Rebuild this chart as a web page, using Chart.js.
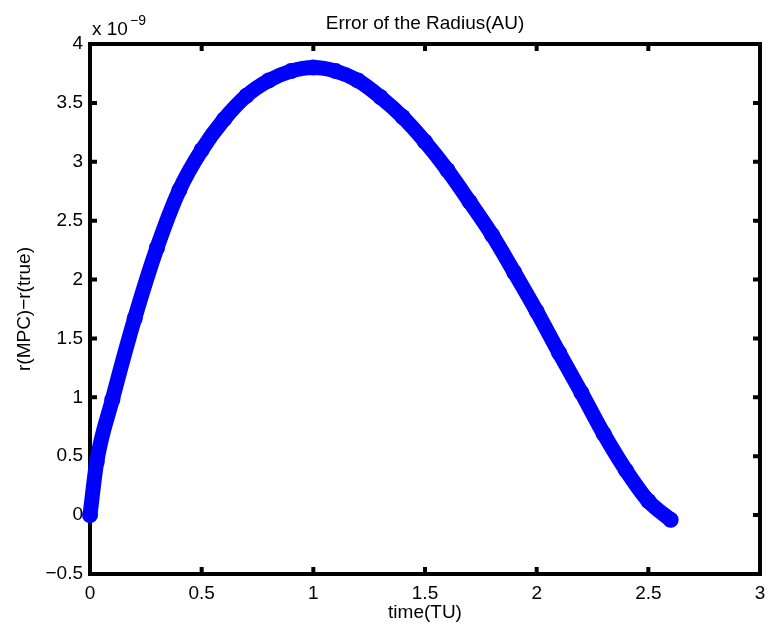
<!DOCTYPE html>
<html>
<head>
<meta charset="utf-8">
<script src="https://cdn.jsdelivr.net/npm/chart.js@4/dist/chart.umd.min.js"></script>
<style>
  html, body { margin: 0; padding: 0; background: #fff; }
</style>
</head>
<body>
<canvas id="chart" width="768" height="633"></canvas>
<script>
// radius error, in units of 1e-9 AU
const timeTU = [0, 0.03, 0.1, 0.2, 0.3, 0.4, 0.5, 0.6, 0.7, 0.8, 0.9, 1.0, 1.1, 1.2, 1.3,
  1.4, 1.5, 1.6, 1.7, 1.8, 1.9, 2.0, 2.1, 2.2, 2.3, 2.4, 2.5, 2.6];
const radiusErrE9 = [0, 0.45, 0.98, 1.67, 2.27, 2.76, 3.10, 3.36, 3.56, 3.69, 3.77, 3.80, 3.77, 3.69, 3.55,
  3.38, 3.17, 2.93, 2.66, 2.38, 2.06, 1.73, 1.38, 1.04, 0.69, 0.38, 0.12, -0.04];
const xTicks = [0, 0.5, 1, 1.5, 2, 2.5, 3];
const yTicks = [-0.5, 0, 0.5, 1, 1.5, 2, 2.5, 3, 3.5, 4];

const FONT = "Liberation Sans, Arial, Helvetica, sans-serif";

function tickText(v) {
  return v < 0 ? "\u2212" + Math.abs(v) : String(v);
}

// MATLAB style box, inward ticks, title and exponent
const matlabFrame = {
  id: "matlabFrame",
  beforeDatasetsDraw(chart) {
    const { ctx, chartArea: a, scales } = chart;
    ctx.save();
    ctx.strokeStyle = "#000";
    ctx.lineWidth = 4;
    ctx.strokeRect(a.left, a.top, a.right - a.left, a.bottom - a.top);
    const len = 7;
    ctx.beginPath();
    xTicks.forEach((v) => {
      const x = scales.x.getPixelForValue(v);
      ctx.moveTo(x, a.bottom); ctx.lineTo(x, a.bottom - len);
      ctx.moveTo(x, a.top); ctx.lineTo(x, a.top + len);
    });
    yTicks.forEach((v) => {
      const y = scales.y.getPixelForValue(v);
      ctx.moveTo(a.left, y); ctx.lineTo(a.left + len, y);
      ctx.moveTo(a.right, y); ctx.lineTo(a.right - len, y);
    });
    ctx.stroke();
    ctx.restore();
  },
  afterDraw(chart) {
    const { ctx, chartArea: a } = chart;
    ctx.save();
    ctx.fillStyle = "#000";
    ctx.textBaseline = "alphabetic";
    ctx.textAlign = "center";
    ctx.font = "19px " + FONT;
    ctx.fillText("Error of the Radius(AU)", (a.left + a.right) / 2, 29);
    ctx.textAlign = "left";
    ctx.fillText("x 10", a.left + 2, 35);
    ctx.font = "14px " + FONT;
    ctx.fillText("\u22129", a.left + 40, 25);
    ctx.restore();
  }
};

new Chart(document.getElementById("chart"), {
  type: "line",
  data: {
    datasets: [{
      data: timeTU.map((t, i) => ({ x: t, y: radiusErrE9[i] })),
      borderColor: "#0000ff",
      backgroundColor: "#0000ff",
      borderWidth: 15,
      borderCapStyle: "round",
      borderJoinStyle: "round",
      cubicInterpolationMode: "monotone",
      pointRadius: 8,
      pointBorderWidth: 0,
      pointBackgroundColor: "#0000ff",
      clip: false
    }]
  },
  options: {
    responsive: false,
    animation: false,
    devicePixelRatio: 1,
    layout: { padding: { top: 44, right: 8, bottom: 0, left: 0 } },
    plugins: { legend: { display: false }, tooltip: { enabled: false } },
    scales: {
      x: {
        type: "linear",
        min: 0,
        max: 3,
        afterBuildTicks: (s) => { s.ticks = xTicks.map((v) => ({ value: v })); },
        afterFit: (s) => { s.height = 59; s.paddingLeft = 0; s.paddingRight = 0; },
        grid: { display: false, drawTicks: false },
        border: { display: false },
        ticks: {
          color: "#000",
          font: { family: FONT, size: 19 },
          padding: 8,
          maxRotation: 0,
          callback: tickText
        },
        title: {
          display: true,
          text: "time(TU)",
          color: "#000",
          font: { family: FONT, size: 19 },
          padding: { top: 0, bottom: 9 }
        }
      },
      y: {
        type: "linear",
        min: -0.5,
        max: 4,
        afterBuildTicks: (s) => { s.ticks = yTicks.map((v) => ({ value: v })); },
        afterFit: (s) => { s.width = 90; s.paddingTop = 0; s.paddingBottom = 0; },
        grid: { display: false, drawTicks: false },
        border: { display: false },
        ticks: {
          color: "#000",
          font: { family: FONT, size: 19 },
          padding: 7,
          callback: tickText
        },
        title: {
          display: true,
          text: "r(MPC)\u2212r(true)",
          color: "#000",
          font: { family: FONT, size: 19 },
          padding: { top: 13, bottom: 0 }
        }
      }
    }
  },
  plugins: [matlabFrame]
});
</script>
</body>
</html>
